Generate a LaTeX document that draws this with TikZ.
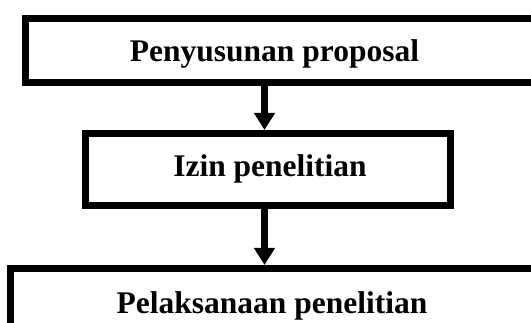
\documentclass[tikz,border=0pt]{standalone}
\usepackage{fontspec}
\setmainfont{Liberation Serif}
\usetikzlibrary{arrows.meta}
\tikzset{
  stagebox/.style={draw=black, line width=7pt, rectangle, inner sep=0pt},
  stagetext/.style={anchor=base, inner sep=0pt, font=\fontsize{31.5}{38}\selectfont\bfseries},
  flow/.style={line width=7pt, -{Triangle[width=20pt,length=17pt]}}
}
\begin{document}
\begin{tikzpicture}[x=1pt,y=-1pt]
\useasboundingbox (0,0) rectangle (531,323);
\clip (0,0) rectangle (531,323);
\node[stagebox, minimum width=511.5pt, minimum height=64pt] (proposal) at (281.25,50.5) {};
\node[stagebox, minimum width=365pt, minimum height=72pt] (izin) at (268,169.5) {};
\node[stagebox, minimum width=560pt, minimum height=100pt] (pelaksanaan) at (290.5,318.5) {};
\node[stagetext] (tproposal) at (274.5,62) {Penyusunan proposal};
\node[stagetext] (tizin) at (270,176.7) {Izin penelitian};
\node[stagetext] (tpelaksanaan) at (272,313.3) {Pelaksanaan penelitian};
\coordinate (a1) at (264.5,0);
\draw[flow] (proposal.south -| a1) -- (izin.north -| a1);
\draw[flow] (izin.south -| a1) -- (pelaksanaan.north -| a1);
\end{tikzpicture}
\end{document}
